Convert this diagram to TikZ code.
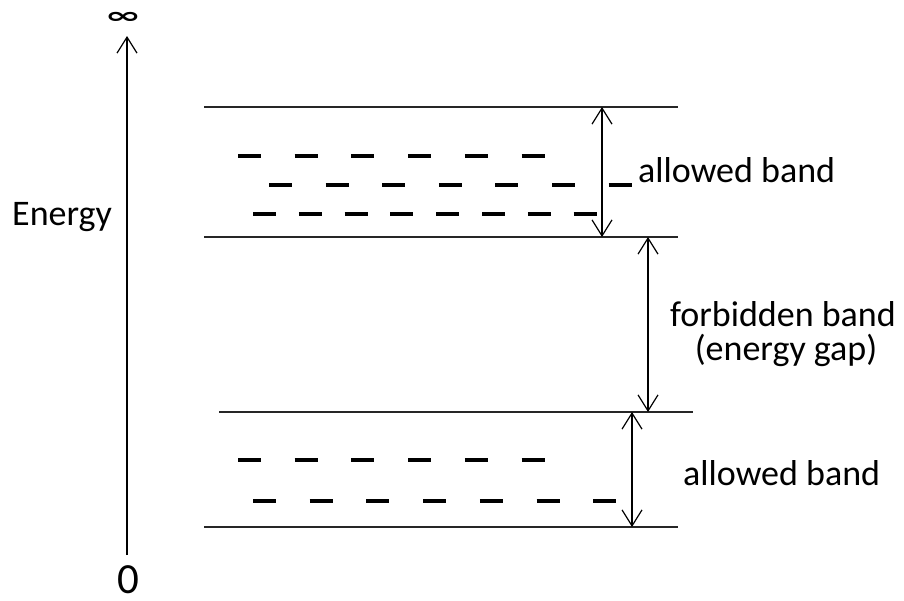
\documentclass[tikz,border=0pt]{standalone}
\usepackage{fontspec}
\setmainfont{Carlito}
\newfontfamily\symfont{DejaVu Sans}
\usetikzlibrary{arrows.meta}
\begin{document}
\begin{tikzpicture}[x=1pt,y=-1pt,
  level/.style={line width=1.2pt, draw=black!85},
  dashmark/.style={line width=3.3pt},
  barb/.tip={Straight Barb[length=16pt,width=20pt]},
  dimarrow/.style={line width=1.2pt,barb-barb},
  axisarrow/.style={line width=1.2pt,-barb},
  lbl/.style={font=\fontsize{36}{40}\selectfont, inner sep=0pt}]
\useasboundingbox (0,0) rectangle (904,600);
% energy axis
\coordinate (origin) at (127,555);
\coordinate (axtop) at (127,36);
\draw[axisarrow] (origin) -- (axtop);
\node[inner sep=0pt, font=\symfont\bfseries\fontsize{26}{28}\selectfont, xscale=1.7, yscale=0.85] (inf) at (123,18) {∞};
\node[lbl, font=\fontsize{43}{46}\selectfont, anchor=base] (zero) at (128,593) {0};
\node[lbl, anchor=base west] (energy) at (12,225) {Energy};
% band edges
\coordinate (t1l) at (204,107); \coordinate (t1r) at (678,107);
\coordinate (t2l) at (204,237); \coordinate (t2r) at (678,237);
\coordinate (b1l) at (219,412); \coordinate (b1r) at (693,412);
\coordinate (b2l) at (204,527); \coordinate (b2r) at (678,527);
\draw[level] (t1l) -- (t1r);
\draw[level] (t2l) -- (t2r);
\draw[level] (b1l) -- (b1r);
\draw[level] (b2l) -- (b2r);
% levels in upper band
\foreach \i in {0,...,5} \draw[dashmark] ({238+\i*56.7},156) -- ++(23,0);
\foreach \i in {0,...,6} \draw[dashmark] ({269+\i*56.6},185) -- ++(23,0);
\foreach \i in {0,...,7} \draw[dashmark] ({253+\i*45.8},214) -- ++(23,0);
% levels in lower band
\foreach \i in {0,...,5} \draw[dashmark] ({238+\i*56.7},460) -- ++(23,0);
\foreach \i in {0,...,6} \draw[dashmark] ({253+\i*56.7},501) -- ++(23,0);
% dimension arrows
\coordinate (A1) at (602,107); \coordinate (A2) at (602,237);
\coordinate (F1) at (648,237); \coordinate (F2) at (648,412);
\coordinate (B1) at (632,412); \coordinate (B2) at (632,527);
\draw[dimarrow] (A1) -- (A2);
\draw[dimarrow] (F1) -- (F2);
\draw[dimarrow] (B1) -- (B2);
% labels
\node[lbl, anchor=base west] (allowedtop) at (638,182) {allowed band};
\node[lbl, anchor=base] (forbidden) at (783,326) {forbidden band};
\node[lbl, anchor=base] (gap) at (786,360) {(energy gap)};
\node[lbl, anchor=base west] (allowedbot) at (683,485) {allowed band};
\end{tikzpicture}
\end{document}
